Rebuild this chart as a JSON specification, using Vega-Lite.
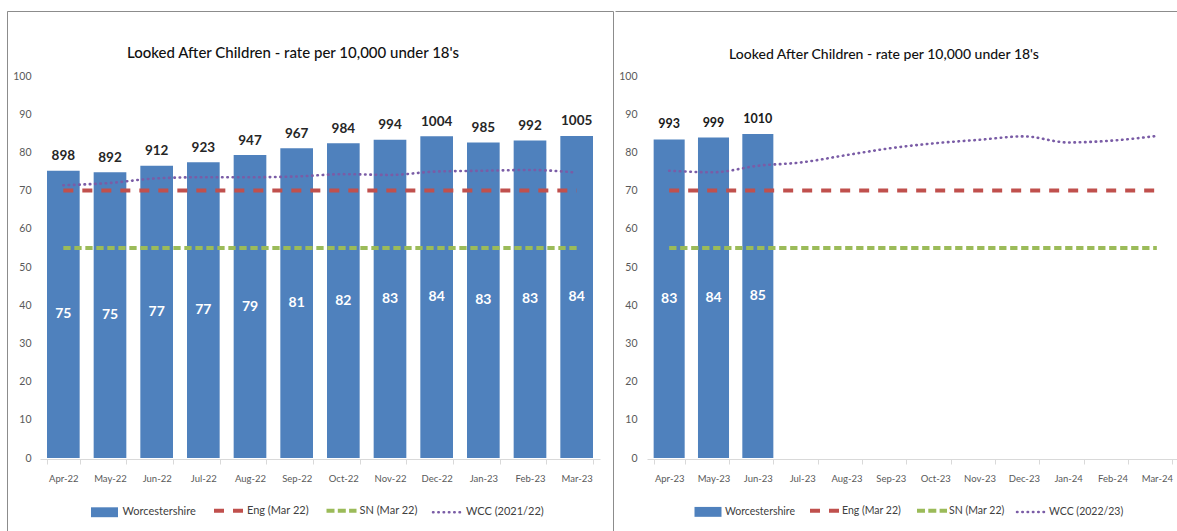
{
  "$schema": "https://vega.github.io/schema/vega-lite/v6.json",
  "background": "white",
  "padding": {"left": 6, "top": 10, "right": 0, "bottom": 0},
  "spacing": 0,
  "config": {
    "font": "Lato, Liberation Sans, sans-serif",
    "view": {"stroke": null},
    "axis": {"grid": false, "title": null}
  },
  "datasets": {
    "fy2223": [
      {"month": "Apr-22", "rate": 75.2, "count": 898, "eng": 70, "sn": 55, "wcc": 71.4},
      {"month": "May-22", "rate": 74.8, "count": 892, "eng": 70, "sn": 55, "wcc": 72.0},
      {"month": "Jun-22", "rate": 76.5, "count": 912, "eng": 70, "sn": 55, "wcc": 73.2},
      {"month": "Jul-22", "rate": 77.4, "count": 923, "eng": 70, "sn": 55, "wcc": 73.5},
      {"month": "Aug-22", "rate": 79.3, "count": 947, "eng": 70, "sn": 55, "wcc": 73.5},
      {"month": "Sep-22", "rate": 81.1, "count": 967, "eng": 70, "sn": 55, "wcc": 73.7},
      {"month": "Oct-22", "rate": 82.4, "count": 984, "eng": 70, "sn": 55, "wcc": 74.3},
      {"month": "Nov-22", "rate": 83.3, "count": 994, "eng": 70, "sn": 55, "wcc": 74.1},
      {"month": "Dec-22", "rate": 84.2, "count": 1004, "eng": 70, "sn": 55, "wcc": 75.0},
      {"month": "Jan-23", "rate": 82.6, "count": 985, "eng": 70, "sn": 55, "wcc": 75.2},
      {"month": "Feb-23", "rate": 83.1, "count": 992, "eng": 70, "sn": 55, "wcc": 75.4},
      {"month": "Mar-23", "rate": 84.3, "count": 1005, "eng": 70, "sn": 55, "wcc": 74.7}
    ],
    "fy2324": [
      {"month": "Apr-23", "rate": 83.4, "count": 993, "eng": 70, "sn": 55, "wcc": 75.2},
      {"month": "May-23", "rate": 83.9, "count": 999, "eng": 70, "sn": 55, "wcc": 74.8},
      {"month": "Jun-23", "rate": 84.8, "count": 1010, "eng": 70, "sn": 55, "wcc": 76.5},
      {"month": "Jul-23", "rate": null, "count": null, "eng": 70, "sn": 55, "wcc": 77.4},
      {"month": "Aug-23", "rate": null, "count": null, "eng": 70, "sn": 55, "wcc": 79.3},
      {"month": "Sep-23", "rate": null, "count": null, "eng": 70, "sn": 55, "wcc": 81.1},
      {"month": "Oct-23", "rate": null, "count": null, "eng": 70, "sn": 55, "wcc": 82.4},
      {"month": "Nov-23", "rate": null, "count": null, "eng": 70, "sn": 55, "wcc": 83.3},
      {"month": "Dec-23", "rate": null, "count": null, "eng": 70, "sn": 55, "wcc": 84.2},
      {"month": "Jan-24", "rate": null, "count": null, "eng": 70, "sn": 55, "wcc": 82.6},
      {"month": "Feb-24", "rate": null, "count": null, "eng": 70, "sn": 55, "wcc": 83.1},
      {"month": "Mar-24", "rate": null, "count": null, "eng": 70, "sn": 55, "wcc": 84.3}
    ]
  },
  "hconcat": [
    {
      "width": 606,
      "height": 520,
      "view": {"stroke": "#8c8c8c", "strokeWidth": 1, "strokeDash": [1126, 606, 520]},
      "title": {"text": "Looked After Children - rate per 10,000 under 18's", "fontSize": 15, "fontWeight": 500, "color": "#111111", "anchor": "middle", "baseline": "alphabetic", "offset": -62, "dx": -17},
      "data": {"name": "fy2223"},
      "encoding": {
        "x": {
          "field": "month", "type": "ordinal", "sort": null,
          "scale": {"domain": ["Apr-22", "May-22", "Jun-22", "Jul-22", "Aug-22", "Sep-22", "Oct-22", "Nov-22", "Dec-22", "Jan-23", "Feb-23", "Mar-23"], "range": [33, 593], "paddingInner": 0.3, "paddingOuter": 0.15},
          "axis": {"orient": "bottom", "offset": -72, "labelAngle": 0, "domainColor": "#D9D9D9", "tickColor": "#D9D9D9", "tickSize": 5, "tickBand": "extent", "labelFontSize": 9.5, "labelColor": "#595959", "labelPadding": 9}
        }
      },
      "resolve": {"scale": {"y": "independent"}},
      "layer": [
        {
          "mark": {"type": "bar"},
          "encoding": {
            "y": {"field": "rate", "type": "quantitative", "scale": {"domain": [0, 100], "range": [447, 65], "nice": false},
                  "axis": {"orient": "left", "offset": -24, "domain": false, "ticks": false, "labelPadding": 0, "values": [0, 10, 20, 30, 40, 50, 60, 70, 80, 90, 100], "labelFontSize": 10.5, "labelColor": "#595959"}},
            "color": {
              "datum": "Worcestershire", "type": "nominal",
              "scale": {"domain": ["Worcestershire", "Eng (Mar 22)", "SN (Mar 22)", "WCC (2021/22)"], "range": ["#4F81BD", "#C0504D", "#9BBB59", "#7A5CA6"]},
              "legend": {
                "orient": "none", "legendX": 82.5, "legendY": 494, "direction": "horizontal", "columns": 4, "title": null, "padding": 0,
                "symbolSize": 900, "labelOffset": 4, "columnPadding": 9.5, "labelFontSize": 11, "labelColor": "#404040",
                "encode": {
                  "symbols": {"update": {
                    "x": {"value": 15},
                    "shape": {"signal": "datum.value === 'Worcestershire' ? 'M-0.9,-0.33H0.9V0.33H-0.9Z' : 'stroke'"},
                    "fill": {"signal": "datum.value === 'Worcestershire' ? '#4F81BD' : 'transparent'"},
                    "stroke": {"signal": "datum.value === 'Eng (Mar 22)' ? '#C0504D' : datum.value === 'SN (Mar 22)' ? '#9BBB59' : datum.value === 'Worcestershire' ? 'transparent' : '#7A5CA6'"},
                    "strokeWidth": {"signal": "datum.value === 'Worcestershire' ? 0 : datum.value === 'WCC (2021/22)' ? 2.5 : 4"},
                    "strokeDash": {"signal": "datum.value === 'Eng (Mar 22)' ? [10, 9] : datum.value === 'SN (Mar 22)' ? [8, 3.3] : datum.value === 'Worcestershire' ? [] : [0.5, 4.8]"},
                    "strokeCap": {"signal": "datum.value === 'WCC (2021/22)' ? 'round' : 'butt'"},
                    "opacity": {"value": 1}
                  }},
                  "labels": {"update": {"x": {"value": 33}}}
                }
              }
            }
          }
        },
        {
          "mark": {"type": "line", "strokeWidth": 4, "strokeDash": [10, 9]},
          "encoding": {
            "y": {"field": "eng", "type": "quantitative", "scale": {"domain": [0, 100], "range": [447, 65], "nice": false}, "axis": null},
            "color": {"datum": "Eng (Mar 22)", "type": "nominal"}
          }
        },
        {
          "mark": {"type": "line", "strokeWidth": 4, "strokeDash": [7.3, 3.7]},
          "encoding": {
            "y": {"field": "sn", "type": "quantitative", "scale": {"domain": [0, 100], "range": [447, 65], "nice": false}, "axis": null},
            "color": {"datum": "SN (Mar 22)", "type": "nominal"}
          }
        },
        {
          "mark": {"type": "line", "strokeWidth": 2.6, "strokeDash": [0.5, 4.8], "strokeCap": "round", "interpolate": "monotone"},
          "encoding": {
            "y": {"field": "wcc", "type": "quantitative", "scale": {"domain": [0, 100], "range": [447, 65], "nice": false}, "axis": null},
            "color": {"datum": "WCC (2021/22)", "type": "nominal"}
          }
        },
        {
          "mark": {"type": "text", "baseline": "alphabetic", "dy": -10.5, "fontSize": 13.5, "fontWeight": "bold", "color": "#262626"},
          "encoding": {
            "y": {"field": "rate", "type": "quantitative", "scale": {"domain": [0, 100], "range": [447, 65], "nice": false}, "axis": null},
            "text": {"field": "count", "type": "quantitative", "format": "d"}
          }
        },
        {
          "mark": {"type": "text", "baseline": "middle", "fontSize": 14, "fontWeight": "bold", "color": "white"},
          "encoding": {
            "y": {"field": "rate", "type": "quantitative", "scale": {"domain": [0, 200], "range": [447, 65], "nice": false}, "axis": null},
            "text": {"field": "rate", "type": "quantitative", "format": ".0f"}
          }
        }
      ]
    },
    {
      "width": 564,
      "height": 520,
      "view": {"stroke": "#8c8c8c", "strokeWidth": 1, "strokeDash": [564, 1604]},
      "title": {"text": "Looked After Children - rate per 10,000 under 18's", "fontSize": 14, "fontWeight": 500, "color": "#111111", "anchor": "middle", "baseline": "alphabetic", "offset": -62, "dx": -13},
      "data": {"name": "fy2324"},
      "encoding": {
        "x": {
          "field": "month", "type": "ordinal", "sort": null,
          "scale": {"domain": ["Apr-23", "May-23", "Jun-23", "Jul-23", "Aug-23", "Sep-23", "Oct-23", "Nov-23", "Dec-23", "Jan-24", "Feb-24", "Mar-24"], "range": [32, 564], "paddingInner": 0.3, "paddingOuter": 0.15},
          "axis": {"orient": "bottom", "offset": -72, "labelAngle": 0, "domainColor": "#D9D9D9", "tickColor": "#D9D9D9", "tickSize": 5, "tickBand": "extent", "labelFontSize": 9.5, "labelColor": "#595959", "labelPadding": 9}
        }
      },
      "resolve": {"scale": {"y": "independent"}},
      "layer": [
        {
          "mark": {"type": "bar"},
          "encoding": {
            "y": {"field": "rate", "type": "quantitative", "scale": {"domain": [0, 100], "range": [447, 65], "nice": false},
                  "axis": {"orient": "left", "offset": -22, "domain": false, "ticks": false, "labelPadding": 0, "values": [0, 10, 20, 30, 40, 50, 60, 70, 80, 90, 100], "labelFontSize": 10.5, "labelColor": "#595959"}},
            "color": {
              "datum": "Worcestershire", "type": "nominal",
              "scale": {"domain": ["Worcestershire", "Eng (Mar 22)", "SN (Mar 22)", "WCC (2022/23)"], "range": ["#4F81BD", "#C0504D", "#9BBB59", "#7A5CA6"]},
              "legend": {
                "orient": "none", "legendX": 78, "legendY": 494, "direction": "horizontal", "columns": 4, "title": null, "padding": 0,
                "symbolSize": 900, "labelOffset": 4, "columnPadding": 7, "labelFontSize": 10.5, "labelColor": "#404040",
                "encode": {
                  "symbols": {"update": {
                    "x": {"value": 15},
                    "shape": {"signal": "datum.value === 'Worcestershire' ? 'M-0.9,-0.33H0.9V0.33H-0.9Z' : 'stroke'"},
                    "fill": {"signal": "datum.value === 'Worcestershire' ? '#4F81BD' : 'transparent'"},
                    "stroke": {"signal": "datum.value === 'Eng (Mar 22)' ? '#C0504D' : datum.value === 'SN (Mar 22)' ? '#9BBB59' : datum.value === 'Worcestershire' ? 'transparent' : '#7A5CA6'"},
                    "strokeWidth": {"signal": "datum.value === 'Worcestershire' ? 0 : datum.value === 'WCC (2022/23)' ? 2.5 : 4"},
                    "strokeDash": {"signal": "datum.value === 'Eng (Mar 22)' ? [10, 9] : datum.value === 'SN (Mar 22)' ? [8, 3.3] : datum.value === 'Worcestershire' ? [] : [0.5, 4.8]"},
                    "strokeCap": {"signal": "datum.value === 'WCC (2022/23)' ? 'round' : 'butt'"},
                    "opacity": {"value": 1}
                  }},
                  "labels": {"update": {"x": {"value": 32}}}
                }
              }
            }
          }
        },
        {
          "mark": {"type": "line", "strokeWidth": 4, "strokeDash": [10, 9]},
          "encoding": {
            "y": {"field": "eng", "type": "quantitative", "scale": {"domain": [0, 100], "range": [447, 65], "nice": false}, "axis": null},
            "color": {"datum": "Eng (Mar 22)", "type": "nominal"}
          }
        },
        {
          "mark": {"type": "line", "strokeWidth": 4, "strokeDash": [7.3, 3.7]},
          "encoding": {
            "y": {"field": "sn", "type": "quantitative", "scale": {"domain": [0, 100], "range": [447, 65], "nice": false}, "axis": null},
            "color": {"datum": "SN (Mar 22)", "type": "nominal"}
          }
        },
        {
          "mark": {"type": "line", "strokeWidth": 2.6, "strokeDash": [0.5, 4.8], "strokeCap": "round", "interpolate": "monotone"},
          "encoding": {
            "y": {"field": "wcc", "type": "quantitative", "scale": {"domain": [0, 100], "range": [447, 65], "nice": false}, "axis": null},
            "color": {"datum": "WCC (2022/23)", "type": "nominal"}
          }
        },
        {
          "mark": {"type": "text", "baseline": "alphabetic", "dy": -11, "fontSize": 12.5, "fontWeight": "bold", "color": "#1a1a1a"},
          "encoding": {
            "y": {"field": "rate", "type": "quantitative", "scale": {"domain": [0, 100], "range": [447, 65], "nice": false}, "axis": null},
            "text": {"field": "count", "type": "quantitative", "format": "d"}
          }
        },
        {
          "mark": {"type": "text", "baseline": "middle", "fontSize": 14, "fontWeight": "bold", "color": "white"},
          "encoding": {
            "y": {"field": "rate", "type": "quantitative", "scale": {"domain": [0, 200], "range": [447, 65], "nice": false}, "axis": null},
            "text": {"field": "rate", "type": "quantitative", "format": ".0f"}
          }
        }
      ]
    }
  ],
  "resolve": {
    "scale": {"color": "independent", "x": "independent"},
    "legend": {"color": "independent"}
  }
}
